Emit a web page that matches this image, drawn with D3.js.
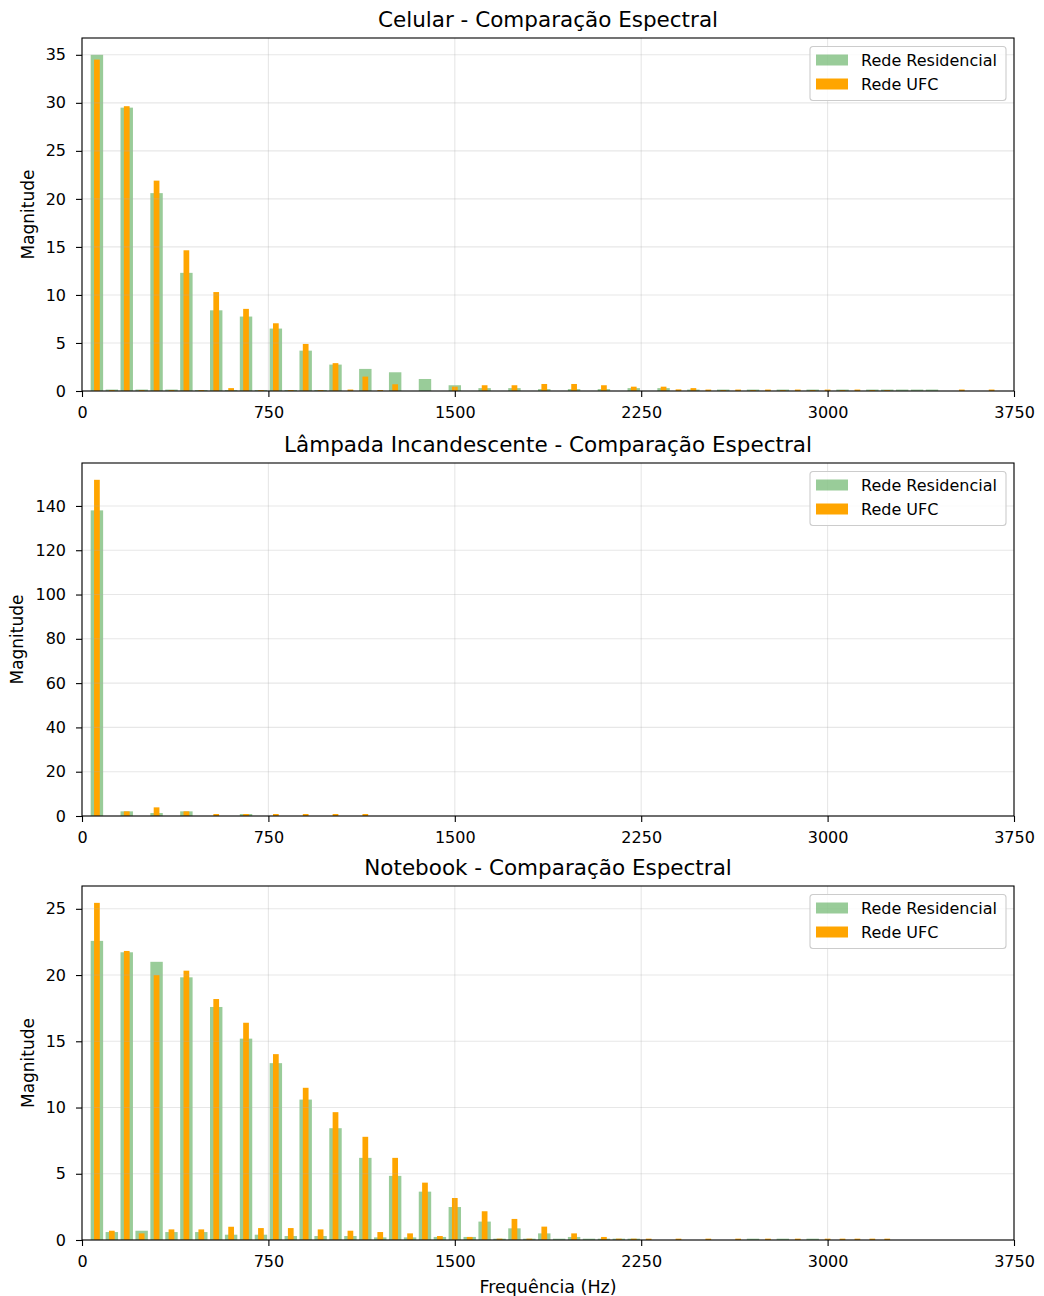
<!DOCTYPE html>
<html>
<head>
<meta charset="utf-8">
<script src="https://cdn.jsdelivr.net/npm/d3@7"></script>
<style>
body { margin: 0; background: #fff; }
svg text { font-family: "DejaVu Sans", sans-serif; fill: #000; }
</style>
</head>
<body>
<div id="chart"></div>
<script>
// harmonics of 60 Hz
var freqs = [
    60, 120, 180, 240, 300, 360, 420, 480, 540, 600,
    660, 720, 780, 840, 900, 960, 1020, 1080, 1140, 1200,
    1260, 1320, 1380, 1440, 1500, 1560, 1620, 1680, 1740, 1800,
    1860, 1920, 1980, 2040, 2100, 2160, 2220, 2280, 2340, 2400,
    2460, 2520, 2580, 2640, 2700, 2760, 2820, 2880, 2940, 3000,
    3060, 3120, 3180, 3240, 3300, 3360, 3420, 3480, 3540, 3600,
    3660, 3720
];

var celularRes = [
    35.0, 0.15, 29.5, 0.15, 20.6, 0.15, 12.3, 0.1, 8.4, 0.1,
    7.75, 0.1, 6.5, 0.1, 4.2, 0.1, 2.75, 0, 2.3, 0,
    1.95, 0, 1.25, 0, 0.6, 0, 0.3, 0, 0.3, 0,
    0.2, 0, 0.2, 0, 0.2, 0, 0.3, 0, 0.3, 0,
    0.15, 0, 0.15, 0, 0.15, 0, 0.15, 0, 0.15, 0,
    0.15, 0, 0.15, 0.15, 0.15, 0.15, 0.15, 0, 0, 0,
    0, 0
];
var celularUfc = [
    34.5, 0.1, 29.65, 0.1, 21.9, 0.1, 14.65, 0.1, 10.3, 0.3,
    8.55, 0.1, 7.05, 0.1, 4.9, 0.1, 2.9, 0.15, 1.5, 0.1,
    0.7, 0, 0, 0, 0.45, 0, 0.6, 0, 0.6, 0,
    0.73, 0, 0.73, 0, 0.6, 0, 0.45, 0, 0.45, 0.17,
    0.3, 0.15, 0.1, 0.15, 0.1, 0.15, 0.1, 0.15, 0.1, 0.15,
    0.1, 0.15, 0.1, 0.1, 0, 0, 0, 0, 0.15, 0,
    0.15, 0
];

var lampadaRes = [
    138, 0, 2.1, 0, 1.35, 0, 2.1, 0, 0, 0,
    0.9, 0, 0, 0, 0, 0, 0, 0, 0, 0,
    0, 0, 0, 0, 0, 0, 0, 0, 0, 0,
    0, 0, 0, 0, 0, 0, 0, 0, 0, 0,
    0, 0, 0, 0, 0, 0, 0, 0, 0, 0,
    0, 0, 0, 0, 0, 0, 0, 0, 0, 0,
    0, 0
];
var lampadaUfc = [
    151.8, 0, 2.1, 0, 3.9, 0, 2.1, 0, 0.9, 0,
    0.9, 0, 0.9, 0, 0.9, 0, 0.9, 0, 0.9, 0,
    0, 0, 0, 0, 0, 0, 0, 0, 0, 0,
    0, 0, 0, 0, 0, 0, 0, 0, 0, 0,
    0, 0, 0, 0, 0, 0, 0, 0, 0, 0,
    0, 0, 0, 0, 0, 0, 0, 0, 0, 0,
    0, 0
];

var notebookRes = [
    22.58, 0.6, 21.72, 0.7, 21.0, 0.6, 19.83, 0.6, 17.59, 0.4,
    15.2, 0.4, 13.35, 0.3, 10.6, 0.3, 8.44, 0.3, 6.2, 0.2,
    4.84, 0.2, 3.65, 0.23, 2.49, 0.23, 1.39, 0.1, 0.88, 0.1,
    0.5, 0.1, 0.23, 0.1, 0.1, 0.1, 0.1, 0, 0, 0,
    0, 0, 0, 0, 0.1, 0, 0.1, 0, 0.1, 0,
    0, 0, 0, 0, 0, 0, 0, 0, 0, 0,
    0, 0
];
var notebookUfc = [
    25.45, 0.7, 21.82, 0.5, 20.0, 0.8, 20.33, 0.8, 18.19, 1.0,
    16.4, 0.9, 14.03, 0.9, 11.49, 0.8, 9.65, 0.7, 7.79, 0.6,
    6.2, 0.5, 4.33, 0.3, 3.17, 0.23, 2.17, 0.1, 1.59, 0.1,
    1.01, 0, 0.5, 0, 0.23, 0.1, 0.1, 0.1, 0, 0.1,
    0, 0.1, 0, 0.1, 0, 0.1, 0, 0.1, 0, 0.1,
    0.1, 0.1, 0.1, 0.1, 0, 0, 0, 0, 0, 0,
    0, 0
];

var xTicks = [0, 750, 1500, 2250, 3000, 3750];
var seriesNames = ["Rede Residencial", "Rede UFC"];

var panels = [
    { title: "Celular - Comparação Espectral", res: celularRes, ufc: celularUfc,
      yTicks: [0, 5, 10, 15, 20, 25, 30, 35], top: 38, bottom: 391, labelX: 34 },
    { title: "Lâmpada Incandescente - Comparação Espectral", res: lampadaRes, ufc: lampadaUfc,
      yTicks: [0, 20, 40, 60, 80, 100, 120, 140], top: 463, bottom: 816, labelX: 23 },
    { title: "Notebook - Comparação Espectral", res: notebookRes, ufc: notebookUfc,
      yTicks: [0, 5, 10, 15, 20, 25], top: 886, bottom: 1240, labelX: 34 }
];

var width = 1044, height = 1296;
var left = 82, right = 1014;
var resWidth = 50, ufcWidth = 23;
var green = "green", orange = "#FFA500";

var svg = d3.select("#chart").append("svg")
    .attr("width", width)
    .attr("height", height);

var x = d3.scaleLinear().domain([0, 3750]).range([left, right]);

panels.forEach(function (p) {
    var maxV = d3.max(p.res.concat(p.ufc));
    var y = d3.scaleLinear().domain([0, maxV * 1.05]).range([p.bottom, p.top]);
    var g = svg.append("g").attr("class", "panel");

    var rows = freqs.map(function (f, i) {
        return { f: f, res: p.res[i], ufc: p.ufc[i] };
    });

    g.selectAll(".res").data(rows).enter().append("rect")
        .attr("class", "res")
        .attr("x", function (d) { return x(d.f - resWidth / 2); })
        .attr("width", x(resWidth) - x(0))
        .attr("y", function (d) { return y(d.res); })
        .attr("height", function (d) { return y(0) - y(d.res); })
        .attr("fill", green)
        .attr("fill-opacity", 0.4);

    g.selectAll(".ufc").data(rows).enter().append("rect")
        .attr("class", "ufc")
        .attr("x", function (d) { return x(d.f - ufcWidth / 2); })
        .attr("width", x(ufcWidth) - x(0))
        .attr("y", function (d) { return y(d.ufc); })
        .attr("height", function (d) { return y(0) - y(d.ufc); })
        .attr("fill", orange);

    // grid
    var grid = g.append("g").attr("stroke", "#b0b0b0").attr("stroke-opacity", 0.3).attr("stroke-width", 1.1);
    grid.selectAll(".gx").data(xTicks).enter().append("line")
        .attr("x1", function (d) { return x(d); }).attr("x2", function (d) { return x(d); })
        .attr("y1", p.top).attr("y2", p.bottom);
    grid.selectAll(".gy").data(p.yTicks).enter().append("line")
        .attr("x1", left).attr("x2", right)
        .attr("y1", function (d) { return y(d); }).attr("y2", function (d) { return y(d); });

    // axes
    var xAxis = g.append("g")
        .attr("transform", "translate(0," + p.bottom + ")")
        .call(d3.axisBottom(x).tickValues(xTicks).tickSize(6).tickPadding(9.5).tickFormat(d3.format("d")));
    var yAxis = g.append("g")
        .attr("transform", "translate(" + left + ",0)")
        .call(d3.axisLeft(y).tickValues(p.yTicks).tickSize(6).tickPadding(10).tickFormat(d3.format("d")));
    [xAxis, yAxis].forEach(function (a) {
        a.select(".domain").remove();
        a.selectAll("line").attr("stroke", "#000").attr("stroke-width", 1.1);
        a.selectAll("text").style("font-size", "16px").attr("fill", "#000");
    });

    // frame
    g.append("rect")
        .attr("x", left).attr("y", p.top)
        .attr("width", right - left).attr("height", p.bottom - p.top)
        .attr("fill", "none").attr("stroke", "#000").attr("stroke-width", 1.1);

    g.append("text")
        .attr("x", (left + right) / 2).attr("y", p.top - 11.5)
        .attr("text-anchor", "middle")
        .style("font-size", "21.5px")
        .text(p.title);

    g.append("text")
        .attr("transform", "translate(" + p.labelX + "," + (p.top + p.bottom) / 2 + ") rotate(-90)")
        .attr("text-anchor", "middle")
        .style("font-size", "17px")
        .text("Magnitude");

    // legend
    var lg = g.append("g").attr("transform", "translate(810," + (p.top + 8.5) + ")");
    lg.append("rect")
        .attr("width", 196).attr("height", 54).attr("rx", 3)
        .attr("fill", "#fff").attr("fill-opacity", 0.8)
        .attr("stroke", "#cccccc").attr("stroke-width", 1.1);
    var items = lg.selectAll(".item").data(seriesNames).enter().append("g")
        .attr("transform", function (d, i) { return "translate(0," + (13.5 + i * 24) + ")"; });
    items.append("rect")
        .attr("x", 6).attr("y", -5.5).attr("width", 32).attr("height", 11)
        .attr("fill", function (d, i) { return i === 0 ? green : orange; })
        .attr("fill-opacity", function (d, i) { return i === 0 ? 0.4 : 1; });
    items.append("text")
        .attr("x", 51).attr("y", 5.8)
        .style("font-size", "16px")
        .text(function (d) { return d; });
});

svg.append("text")
    .attr("x", (left + right) / 2).attr("y", 1293)
    .attr("text-anchor", "middle")
    .style("font-size", "17.5px")
    .text("Frequência (Hz)");
</script>
</body>
</html>
